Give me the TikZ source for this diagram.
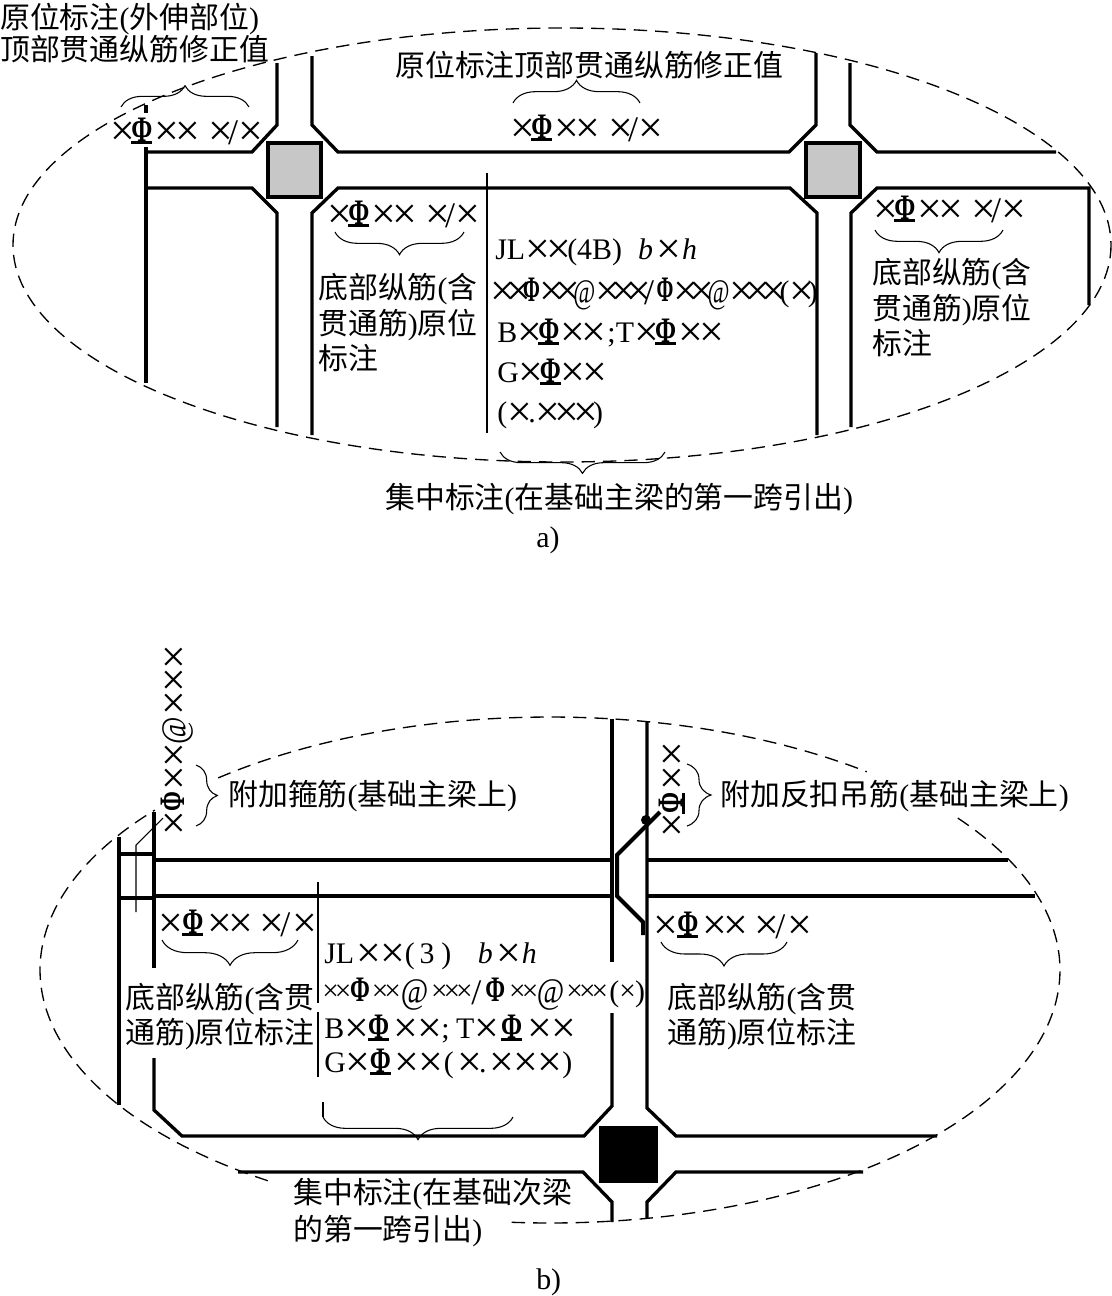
\documentclass[tikz,border=0pt]{standalone}
\usepackage{fontspec}
\usetikzlibrary{decorations.pathreplacing}
\setmainfont{Liberation Serif}
\newfontfamily\cjkf{Noto Sans CJK SC}
\newcommand\C[1]{{\cjkf #1}}
\newcommand\X{\lower3.2pt\hbox{\fontsize{33pt}{33pt}\selectfont ×}\kern-2.8pt}
\newcommand\Xt{\X\kern-4pt}
\newcommand\Xw{\X\kern2.2pt}
\newcommand\Xs{\raise.2pt\hbox{\fontsize{22pt}{22pt}\selectfont ×}\kern-3pt}
\newcommand\Sl{\lower2.5pt\hbox{\fontsize{27pt}{27pt}\selectfont /}}
\newcommand\Pp{\scalebox{.8}[1.2]{\bfseries Φ}}
\newcommand\Pn{\scalebox{.68}[1.2]{\bfseries Φ}}
\newcommand\At{\lower1.5pt\hbox{\scalebox{.8}[1.15]{@}}}
\newcommand\Ab{\lower2pt\hbox{\scalebox{1}[1.2]{@}}}
\newcommand\Pu{\leavevmode\setbox0\hbox{\scalebox{.85}[1.2]{\bfseries Φ}}\rlap{\rule[-2pt]{\wd0}{1.7pt}}\box0}
\newcommand\Rb{\X\Pu\kern1.5pt\X\X\kern9pt\X\kern-1.2pt\Sl\kern.4pt\X}
\newcommand\Rbb{\X\kern2.2pt\Pu\kern3pt\X\X\kern7.5pt\X\kern-.2pt\Sl\kern2pt\X}
\tikzset{
  lab/.style={anchor=base west,inner sep=0pt,font=\fontsize{22.4pt}{24pt}\selectfont},
  beam/.style={draw=black,line width=2.5pt,line join=miter},
  fine/.style={draw=black,line width=.8pt},
  bracee/.style={draw=black,line width=.8pt,decorate,decoration={brace,amplitude=#1}},
  dashline/.style={draw=black,line width=1pt,dash pattern=on 10pt off 6pt},
  column/.style={draw=black,line width=2.5pt}
}
\begin{document}
\begin{tikzpicture}[x=.75pt,y=-.75pt]
\useasboundingbox (0,0) rectangle (1112,1296);
% ===== part a =====
\draw[beam] (146,147) -- (146,383);
\draw[beam] (146,105) -- (146,113);
\draw[beam] (146,152) -- (252,152) -- (277,125) -- (277,63);
\draw[beam] (312,56) -- (312,125) -- (338,152) -- (789,152) -- (816,125) -- (816,53);
\draw[beam] (850,63) -- (850,125) -- (877,152) -- (1056,152);
\draw[beam] (146,188) -- (252,188) -- (277,213) -- (277,427);
\draw[beam] (312,435) -- (312,213) -- (338,188) -- (790,188) -- (817,213) -- (817,435);
\draw[beam] (851,427) -- (851,213) -- (877,188) -- (1089,188) -- (1089,305);
\draw[fine] (487,173) -- (487,433);
\draw[column,fill=black!22] (268,143) rectangle (321,197);
\draw[column,fill=black!22] (806,143) rectangle (860,197);
\draw[dashline] (562,245) ellipse [x radius=549,y radius=217];
\draw[bracee=16pt] (121,107) -- (249,107);
\draw[bracee=17pt] (513,103) -- (640,103);
\draw[bracee=17pt] (464,232) -- (335,232);
\draw[bracee=17pt] (1003,230) -- (875,230);
\draw[bracee=16pt] (665,452) -- (500,452);
\node[lab] (a1) at (0,28) {\C{原位标注}(\C{外伸部位})};
\node[lab] (a2) at (0,60) {\C{顶部贯通纵筋修正值}};
\node[lab] (a3) at (395,76) {\C{原位标注顶部贯通纵筋修正值}};
\node[lab] (a4) at (110,141) {\Rb};
\node[lab] (a5) at (510,138) {\Rb};
\node[lab] (a6) at (327,224) {\Rb};
\node[lab] (a7) at (873,219) {\Rb};
\node[lab] (a8) at (318,298) {\C{底部纵筋}(\C{含}};
\node[lab] (a9) at (318,334) {\C{贯通筋})\C{原位}};
\node[lab] (a10) at (318,369) {\C{标注}};
\node[lab] (a11) at (872,283) {\C{底部纵筋}(\C{含}};
\node[lab] (a12) at (872,319) {\C{贯通筋})\C{原位}};
\node[lab] (a13) at (872,354) {\C{标注}};
\node[lab] (a14) at (495,259) {JL\X\X(4B)\kern12pt\textit{b}\kern3pt\X\kern3pt\textit{h}};
\node[lab] (a15) at (490,301) {\Xt\Xt\kern1pt\Pn\Xt\Xt\kern1.5pt\At\Xt\Xt\Xt\kern1pt\Sl\kern2pt\Pn\Xt\Xt\kern2pt\At\Xt\Xt\Xt\kern2pt(\Xt\kern2pt)};
\node[lab] (a16) at (497,342) {B\X\Pu\kern1pt\X\X\kern3.5pt;T\X\Pu\kern1.5pt\X\X};
\node[lab] (a17) at (497,382) {G\X\Pu\X\X};
\node[lab] (a18) at (497,422) {(\X.\X\kern-1.5pt\X\kern-1.5pt\X\kern-1.5pt)};
\node[lab] (a19) at (385,508) {\C{集中标注}(\C{在基础主梁的第一跨引出})};
\node[lab] (a20) at (536,547) {a)};
% ===== part b =====
\draw[beam] (119,837) -- (119,1105);
\draw[beam] (154,812) -- (154,968);
\draw[beam] (154,1058) -- (154,1110) -- (182,1136) -- (584,1136) -- (612,1106) -- (612,1013);
\draw[beam] (612,962) -- (612,719);
\draw[beam] (647,722) -- (647,1108) -- (676,1136) -- (937,1136);
\draw[beam] (154,860) -- (612,860);
\draw[beam] (647,860) -- (1008,860);
\draw[beam] (154,896) -- (612,896);
\draw[beam] (647,896) -- (1035,896);
\draw[beam] (119,854) -- (154,854);
\draw[draw=black,line width=3.2pt] (119,898) -- (154,898);
\draw[beam] (238,1172) -- (583,1172) -- (612,1202) -- (612,1222);
\draw[beam] (647,1218) -- (647,1202) -- (676,1172) -- (863,1172);
\draw[fine] (163,818) -- (136,845) -- (136,912);
\draw[fine] (318,882) -- (318,1003);
\draw[fine] (318,1012) -- (318,1077);
\fill[black] (599,1126) rectangle (658,1183);
\draw[draw=black,line width=3pt] (660,812) -- (617,855) -- (617,896) -- (643,922) -- (643,935);
\fill[black] (646,820) circle [radius=5];
\draw[dashline] plot[domain=-130.6:-51.6,samples=80] ({550+510*cos(\x)},{970+253*sin(\x)});
\draw[dashline] plot[domain=-36.9:94.8,samples=120] ({550+510*cos(\x)},{970+253*sin(\x)});
\draw[dashline] plot[domain=123.6:219.2,samples=90] ({550+510*cos(\x)},{970+253*sin(\x)});
\draw[bracee=16pt] (196,765) -- (196,826);
\draw[bracee=18pt] (687,764) -- (687,826);
\draw[bracee=19pt] (298,940) -- (162,940);
\draw[bracee=18pt] (787,942) -- (661,942);
\draw[bracee=17pt] (513,1117) -- (323,1117);
\draw[fine] (323,1102) -- (323,1117);
\node[lab,rotate=90] (b1) at (184,836) {\X\kern2pt\Pp\kern1.5pt\X\kern1.5pt\X\kern1pt\Ab\kern1pt\X\kern1.5pt\X\kern1.5pt\X};
\node[lab,rotate=90] (b2) at (682,838) {\X\kern2pt\Pu\kern2pt\X\kern2pt\X};
\node[lab] (b3) at (228,805) {\C{附加箍筋}(\C{基础主梁上})};
\node[lab] (b4) at (720,805) {\C{附加反扣吊筋}(\C{基础主梁上})};
\node[lab] (b5) at (158,933) {\Rbb};
\node[lab] (b6) at (653,935) {\Rbb};
\node[lab] (b7) at (125,1008) {\C{底部纵筋}(\C{含贯}};
\node[lab] (b8) at (125,1043) {\C{通筋})\C{原位标注}};
\node[lab] (b9) at (667,1008) {\C{底部纵筋}(\C{含贯}};
\node[lab] (b10) at (667,1043) {\C{通筋})\C{原位标注}};
\node[lab] (b11) at (324,963) {JL\kern2pt\Xw\Xw(\kern3.7pt3\kern5pt)\kern20pt\textit{b}\kern3pt\X\kern3pt\textit{h}};
\node[lab] (b12) at (322,1001) {\Xs\Xs\kern2pt\Pp\kern1.5pt\Xs\Xs\kern3pt\Ab\kern2pt\Xs\Xs\Xs\kern2pt\Sl\kern3pt\Pp\kern3pt\Xs\Xs\kern2pt\Ab\kern1.5pt\Xs\Xs\Xs\kern4pt(\Xs\kern2.5pt)};
\node[lab] (b13) at (324,1038) {B\Xw\Pu\kern3pt\Xw\Xw;\kern5pt T\Xw\kern2pt\Pu\kern4pt\Xw\X};
\node[lab] (b14) at (324,1072) {G\Xw\Pu\kern3pt\Xw\X\kern3pt(\kern3pt\X.\kern2pt\Xw\Xw\X\kern3pt)};
\node[lab] (b15) at (293,1203) {\C{集中标注}(\C{在基础次梁}};
\node[lab] (b16) at (293,1240) {\C{的第一跨引出})};
\node[lab] (b17) at (536,1289) {b)};
\end{tikzpicture}
\end{document}
